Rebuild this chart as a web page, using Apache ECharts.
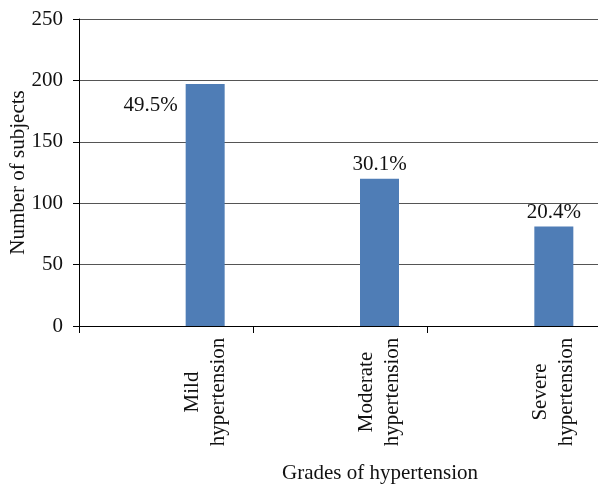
<!DOCTYPE html>
<html>
<head>
<meta charset="utf-8">
<script src="https://cdn.jsdelivr.net/npm/echarts@6/dist/echarts.min.js"></script>
<style>
  html, body { margin: 0; padding: 0; background: #fff; }
  #main { width: 598px; height: 487px; }
</style>
</head>
<body>
<div id="main"></div>
<script>
// data
var categories = ['Mild\nhypertension', 'Moderate\nhypertension', 'Severe\nhypertension'];
var subjects = [197, 120, 81];
var shares = ['49.5%', '30.1%', '20.4%'];
var yTicks = [0, 50, 100, 150, 200, 250];

var FONT = '"Liberation Serif", "DejaVu Serif", serif';
var myChart = echarts.init(document.getElementById('main'));

var barData = subjects.map(function (v, i) {
    var item = { value: v, label: { formatter: shares[i] } };
    if (i === 0) {
        // first label sits to the left of the bar, below its top
        item.label.position = [-8, 21];
        item.label.align = 'right';
        item.label.verticalAlign = 'middle';
    }
    return item;
});

var option = {
    animation: false,
    textStyle: { fontFamily: FONT, color: '#111' },
    grid: { left: 79, right: -4, top: 19, bottom: 161, outerBoundsMode: 'none', containLabel: false },
    xAxis: {
        type: 'category',
        data: categories,
        name: 'Grades of hypertension',
        nameLocation: 'middle',
        nameGap: 137,
        nameMoveOverlap: false,
        nameTextStyle: { fontFamily: FONT, fontSize: 21, color: '#111', padding: [0, 0, 0, 79] },
        axisLine: { lineStyle: { color: '#000', width: 1 } },
        axisTick: { show: true, length: 7, lineStyle: { color: '#000' } },
        axisLabel: {
            interval: 0,
            rotate: 90,
            margin: 8,
            fontFamily: FONT,
            fontSize: 21,
            lineHeight: 26,
            color: '#111',
            align: 'center',
            verticalAlign: 'middle',
            padding: [0, 116, 0, 0],
            // blank leading lines push the label under the bar
            formatter: function (v) { return '\n\n\n' + v; }
        }
    },
    yAxis: {
        type: 'value',
        min: yTicks[0],
        max: yTicks[yTicks.length - 1],
        interval: 50,
        name: 'Number of subjects',
        nameLocation: 'middle',
        nameGap: 50,
        nameMoveOverlap: false,
        nameTextStyle: { fontFamily: FONT, fontSize: 21, color: '#111' },
        axisLine: { show: true, lineStyle: { color: '#000', width: 1 } },
        axisTick: { show: true, length: 6, lineStyle: { color: '#000' } },
        axisLabel: { margin: 16, fontFamily: FONT, fontSize: 21, color: '#111' },
        splitLine: { show: true, lineStyle: { color: '#555', width: 1 } }
    },
    series: [
        {
            // empty slot, keeps the bars right of the category centre
            type: 'bar',
            data: [null, null, null],
            barWidth: 39,
            barGap: '100%'
        },
        {
            type: 'bar',
            data: barData,
            barWidth: 39,
            barGap: '100%',
            itemStyle: { color: '#4f7db6' },
            label: {
                show: true,
                position: 'top',
                distance: 4,
                fontFamily: FONT,
                fontSize: 21,
                color: '#111'
            }
        }
    ]
};

myChart.setOption(option);
</script>
</body>
</html>
